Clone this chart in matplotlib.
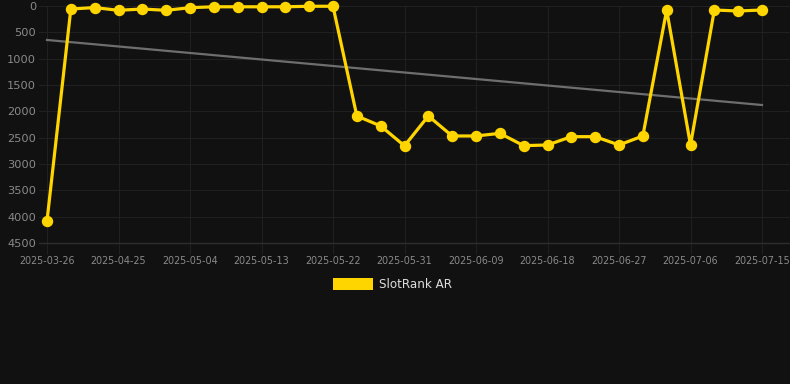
import matplotlib
matplotlib.use("Agg")
import matplotlib.pyplot as plt
from matplotlib.patches import Rectangle
import numpy as np

# Data
tick_labels = ["2025-03-26", "2025-04-25", "2025-05-04", "2025-05-13", "2025-05-22",
               "2025-05-31", "2025-06-09", "2025-06-18", "2025-06-27", "2025-07-06",
               "2025-07-15"]
ranks = [4080, 57, 30, 82, 57, 82, 32, 15, 15, 15, 15, 5, 5,
         2088, 2278, 2655, 2088, 2468, 2468, 2418, 2652, 2639, 2481, 2481,
         2639, 2468, 76, 2639, 76, 95, 76]
trend_start = 645
trend_end = 1880
series_name = "SlotRank AR"

W, H = 790, 384
fig = plt.figure(figsize=(W / 100, H / 100), dpi=100)
fig.patch.set_facecolor("#111111")

px_per_unit = (762 - 47) / 30
left_px, right_px = 39, 790
top_px, bottom_px = 6, 243
ax = fig.add_axes([left_px / W, 1 - bottom_px / H,
                   (right_px - left_px) / W, (bottom_px - top_px) / H])
ax.set_facecolor("#111111")

x = np.arange(len(ranks))
ax.set_xlim(-(47 - left_px) / px_per_unit, 30 + (right_px - 762) / px_per_unit)
ax.set_ylim(4500, 0)

grid_c = "#202020"
ax.set_yticks(np.arange(0, 4501, 500))
ax.set_xticks(np.arange(0, 31, 3))
ax.set_xticklabels(tick_labels)
ax.grid(True, color=grid_c, linewidth=0.8)
for s in ax.spines.values():
    s.set_visible(False)
ax.tick_params(axis="y", length=0, pad=2, labelsize=8.2, labelcolor="#8a8a8a")
ax.tick_params(axis="x", length=8, width=0.8, color=grid_c, pad=1,
               labelsize=6.9, labelcolor="#8a8a8a")
ax.axhline(4500, color="#2e2e2e", linewidth=1.0, clip_on=False)

ax.plot([x[0], x[-1]], [trend_start, trend_end], color="#6e6e6e", linewidth=1.6,
        zorder=2, clip_on=False)
ax.plot(x, ranks, color="#FFD500", linewidth=2.3, marker="o", markersize=7.2,
        markerfacecolor="#FFD500", markeredgecolor="#FFD500", zorder=3, clip_on=False)

# Legend
fig.patches.append(Rectangle((333 / W, 1 - 290 / H), 40 / W, 12 / H,
                             transform=fig.transFigure, facecolor="#FFD500",
                             edgecolor="none"))
fig.text(379 / W, 1 - 284.5 / H, series_name, color="#dddddd", fontsize=8.6,
         va="center", ha="left")

fig.savefig("out.png", dpi=100, facecolor=fig.get_facecolor())
